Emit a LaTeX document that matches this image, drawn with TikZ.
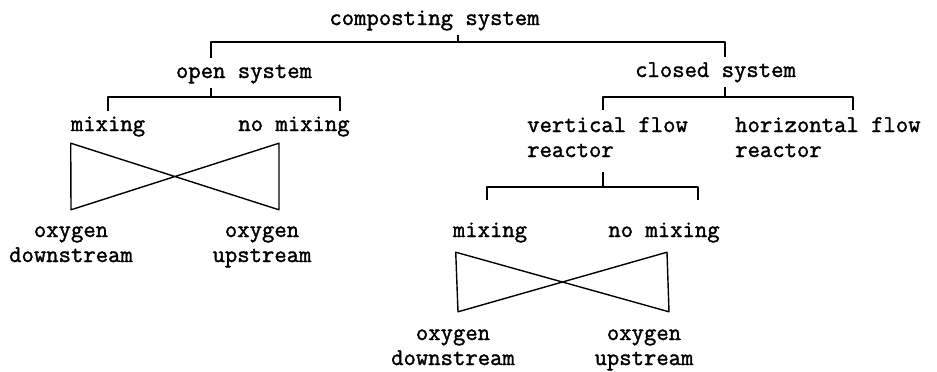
\documentclass[tikz,border=0pt]{standalone}
\usepackage{fontspec}
\setmonofont[FakeBold=1.5]{Latin Modern Mono}
\tikzset{
    tree-text/.style = {font=\ttfamily\fontsize{24}{25}\selectfont, inner xsep=0pt, inner ysep=6pt, text height=14pt, text depth=4pt, anchor=base},
    tree-text-2/.style = {tree-text, text height=39pt},
    tree-line/.style = {line width=1.4pt, line join=round},
}

\begin{document}
\begin{tikzpicture}[x=1pt, y=1pt]
\useasboundingbox (0,0) rectangle (937,-372);
% terms
\node[tree-text] (root) at (434.5,-25) {composting system};
\node[tree-text] (open) at (244,-78) {open system};
\node[tree-text] (closed) at (715.5,-77) {closed system};
\node[tree-text] (mix-open) at (108,-131) {mixing};
\node[tree-text] (nomix-open) at (294,-131) {no mixing};
\node[tree-text-2, anchor=base west, align=left] (vertical) at (527,-157) {vertical flow\\reactor};
\node[tree-text-2, anchor=base west, align=left] (horizontal) at (735,-157) {horizontal flow\\reactor};
\node[tree-text] (mix-closed) at (490,-237) {mixing};
\node[tree-text] (nomix-closed) at (664,-237) {no mixing};
\node[tree-text-2, align=center] (down-open) at (71,-262) {oxygen\\downstream};
\node[tree-text-2, align=center] (up-open) at (262,-262) {oxygen\\upstream};
\node[tree-text-2, align=center] (down-closed) at (453,-365) {oxygen\\downstream};
\node[tree-text-2, align=center] (up-closed) at (644,-365) {oxygen\\upstream};

% composting system
\draw[tree-line] ([xshift=23.5pt]root.south) -- ++(0,-7);
\draw[tree-line] ([xshift=-33pt]open.north) -- ++(0,16) -| ([xshift=9.5pt]closed.north);
% open system
\draw[tree-line] ([xshift=-33pt]open.south) -- ++(0,-9);
\draw[tree-line] (mix-open.north) -- ++(0,14) -| ([xshift=46pt]nomix-open.north);
% closed system
\draw[tree-line] ([xshift=9.5pt]closed.south) -- ++(0,-10);
\draw[tree-line] ([xshift=76pt,yshift=2pt]vertical.north west) -- ++(0,13) -| ([xshift=118pt,yshift=2pt]horizontal.north west);
% vertical flow reactor
\draw[tree-line] ([xshift=76pt,yshift=-5pt]vertical.south west) -- ++(0,-15);
\draw[tree-line] ([xshift=-3pt,yshift=17pt]mix-closed.north) -- ++(0,13) -| ([xshift=34pt,yshift=17pt]nomix-closed.north);

% mixing / no mixing
\draw[tree-line] ([yshift=-2pt]mix-open.south west) -- ([yshift=7pt]down-open.north)
    -- ([xshift=-15pt,yshift=-2pt]nomix-open.south) -- ([xshift=17pt,yshift=7pt]up-open.north) -- cycle;
\draw[tree-line] ([xshift=3pt,yshift=-5pt]mix-closed.south west) -- ([xshift=5pt,yshift=8pt]down-closed.north)
    -- ([xshift=3pt,yshift=-5pt]nomix-closed.south) -- ([xshift=25pt,yshift=8pt]up-closed.north) -- cycle;
\end{tikzpicture}
\end{document}
